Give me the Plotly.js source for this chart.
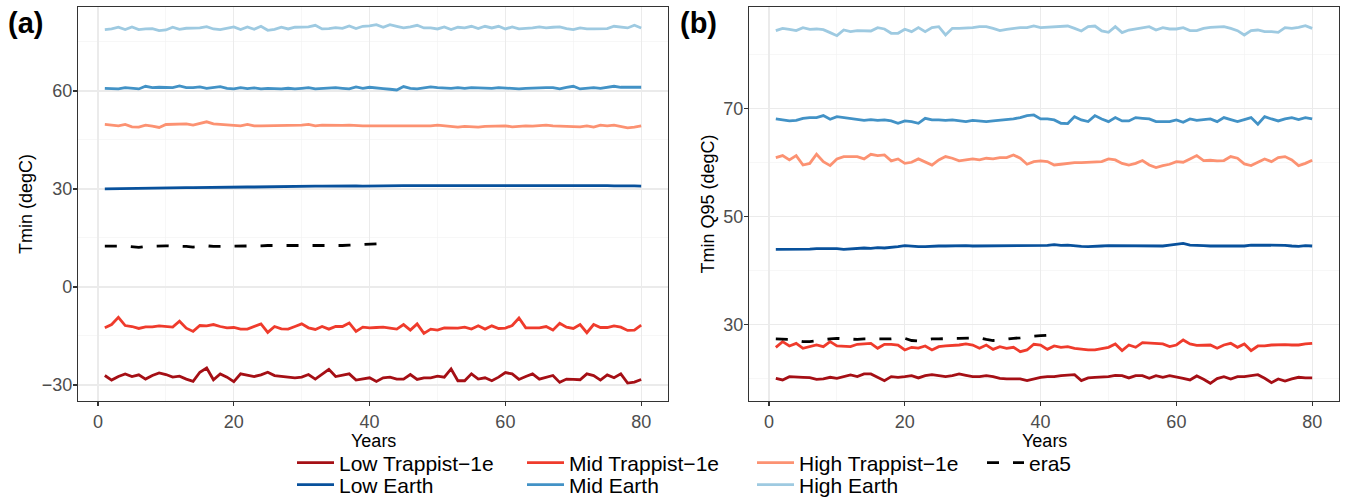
<!DOCTYPE html>
<html>
<head>
<meta charset="utf-8">
<script src="https://cdn.plot.ly/plotly-3.0.1.min.js"></script>
<style>html,body{margin:0;padding:0;background:#fff;}#chart{width:1348px;height:499px;}</style>
</head>
<body>
<div id="chart"></div>
<script>
// ---------- data ----------
const years = [1,2,3,4,5,6,7,8,9,10,11,12,13,14,15,16,17,18,19,20,21,22,23,24,25,26,27,28,29,30,31,32,33,34,35,36,37,38,39,40,41,42,43,44,45,46,47,48,49,50,51,52,53,54,55,56,57,58,59,60,61,62,63,64,65,66,67,68,69,70,71,72,73,74,75,76,77,78,79,80];
const era5Years = [1,2,3,4,5,6,7,8,9,10,11,12,13,14,15,16,17,18,19,20,21,22,23,24,25,26,27,28,29,30,31,32,33,34,35,36,37,38,39,40,41,42];

const seriesNames = ["Low Trappist\u22121e","Mid Trappist\u22121e","High Trappist\u22121e","era5","Low Earth","Mid Earth","High Earth"];
const xTitle = "Years";
const aYTitle = "Tmin (degC)";
const bYTitle = "Tmin Q95 (degC)";

// Panel (a): Tmin (degC)
const a_lowTrappist = [-27.1,-28.5,-27.4,-26.6,-27.4,-26.9,-28.2,-27.1,-26.3,-26.8,-27.6,-27.3,-28.2,-28.9,-26.1,-24.8,-28.4,-26.6,-27.6,-29.0,-26.6,-26.9,-27.4,-26.9,-26.1,-27.1,-27.4,-27.7,-27.8,-27.6,-26.8,-28.2,-26.6,-25.2,-27.4,-27.1,-26.6,-28.5,-28.2,-27.8,-28.9,-27.8,-27.6,-28.2,-28.2,-26.8,-28.3,-27.8,-27.8,-27.3,-27.6,-25.1,-28.7,-28.7,-26.6,-28.2,-27.8,-28.7,-27.6,-26.2,-26.6,-28.3,-27.4,-26.6,-28.2,-27.6,-27.1,-29.2,-28.2,-28.3,-28.4,-26.6,-27.1,-28.5,-26.9,-27.8,-26.6,-29.4,-29.1,-28.3];
const a_midTrappist = [-12.5,-11.5,-9.3,-11.8,-12.1,-12.7,-12.2,-12.2,-11.9,-12.1,-12.3,-10.5,-12.6,-13.6,-11.8,-11.9,-11.5,-12.1,-12.5,-12.4,-12.9,-12.9,-12.1,-11.3,-13.9,-12.1,-12.8,-12.9,-12.1,-11.3,-12.5,-13.0,-12.1,-12.9,-12.1,-12.1,-11.0,-13.6,-12.3,-12.5,-12.4,-12.3,-12.6,-12.9,-11.5,-13.2,-11.3,-14.2,-12.9,-13.2,-12.5,-12.6,-12.6,-12.3,-12.9,-11.9,-12.9,-11.9,-12.7,-12.6,-11.8,-9.5,-12.5,-12.5,-12.5,-12.1,-13.2,-11.1,-12.3,-12.7,-11.5,-14.0,-11.5,-12.4,-12.4,-11.9,-12.3,-13.3,-13.2,-11.7];
const a_highTrappist = [49.74,49.54,49.33,49.74,49.03,48.92,49.54,49.23,48.82,49.74,49.85,49.95,49.95,49.54,49.95,50.56,49.95,49.74,49.74,49.54,49.33,49.74,49.33,49.33,49.33,49.54,49.54,49.44,49.54,49.54,49.74,49.33,49.54,49.44,49.54,49.44,49.54,49.33,49.33,49.33,49.33,49.13,49.23,49.13,49.13,49.13,49.13,49.13,49.33,49.54,49.33,49.03,48.92,49.13,48.92,48.92,49.13,49.23,49.33,49.33,49.03,49.23,49.33,49.23,49.33,49.54,49.33,49.23,49.03,49.13,49.03,49.33,48.92,49.54,49.33,49.54,49.13,48.72,48.92,49.33];
const a_era5 = [12.5,12.6,12.5,12.5,12.2,12.1,12.4,12.5,12.5,12.6,12.5,12.5,12.4,12.2,12.5,12.6,12.4,12.4,12.5,12.6,12.5,12.4,12.6,12.6,12.7,12.7,12.6,12.7,12.6,12.6,12.6,12.6,12.6,12.5,12.6,12.7,12.8,12.9,13.1,13.2,13.2,13.3];
const a_lowEarth = [30.0,30.05,30.1,30.1,30.15,30.2,30.25,30.3,30.3,30.35,30.35,30.4,30.4,30.4,30.45,30.45,30.5,30.5,30.55,30.6,30.65,30.6,30.6,30.65,30.7,30.7,30.7,30.75,30.8,30.8,30.8,30.85,30.85,30.9,30.9,30.9,30.9,30.95,30.9,30.95,31.0,31.05,31.1,31.05,31.0,31.0,31.0,31.05,31.0,31.0,31.0,31.05,31.0,31.0,31.05,31.05,31.1,31.1,31.15,31.2,31.1,31.05,31.0,31.0,31.0,31.0,31.05,31.0,31.0,31.0,31.05,31.0,31.05,31.0,31.0,30.95,31.0,30.95,30.95,30.9];
const a_midEarth = [60.82,60.82,60.62,61.03,60.82,60.62,61.44,61.03,61.13,61.13,61.03,61.54,61.03,61.03,61.24,60.82,61.13,61.34,60.82,60.62,61.03,60.72,60.93,60.62,60.82,60.62,60.62,60.82,60.62,60.82,61.03,60.62,60.82,60.82,61.03,60.82,60.62,61.24,60.82,61.13,60.82,60.72,60.52,60.31,61.34,60.82,60.62,60.93,61.24,61.03,60.93,60.82,61.03,60.82,61.03,60.93,61.03,60.82,61.03,60.82,60.62,60.62,60.82,60.93,60.93,61.03,61.03,60.62,61.13,61.44,60.62,60.82,61.03,60.82,61.03,61.44,61.13,61.13,61.24,61.13];
const a_highEarth = [78.78,78.98,79.5,78.78,79.6,78.78,78.98,79.09,78.47,78.68,79.5,78.88,79.19,79.19,79.29,79.7,78.98,78.78,79.09,79.6,78.78,79.6,78.88,79.8,78.57,78.88,79.5,78.98,79.5,79.5,79.6,80.1,78.98,79.09,79.4,79.19,79.9,79.09,79.8,79.9,80.3,79.5,80.3,79.8,79.29,79.6,80.1,79.29,79.29,78.98,79.6,78.78,79.5,79.29,79.8,79.09,79.8,79.29,79.8,78.98,79.6,78.98,79.09,79.29,79.6,79.29,79.5,79.6,79.09,78.78,79.29,78.98,78.98,79.09,79.09,79.8,79.5,79.29,80.1,79.29];

// Panel (b): Tmin Q95 (degC)
const b_lowTrappist = [20.0,19.7,20.31,20.31,20.19,20.13,19.82,19.88,20.19,20.0,20.31,20.62,20.31,20.81,20.81,20.13,19.57,20.31,20.19,20.31,20.5,20.07,20.5,20.68,20.5,20.31,20.5,20.81,20.56,20.31,20.31,20.5,20.31,20.0,19.88,19.88,19.88,19.57,19.88,20.19,20.31,20.31,20.5,20.62,20.68,19.57,20.07,20.19,20.19,20.31,20.56,20.5,20.07,20.5,20.5,20.0,20.5,20.19,20.5,20.31,20.0,19.7,20.44,19.82,19.08,19.94,20.31,19.88,20.31,20.31,20.44,20.68,20.0,19.2,19.88,19.51,19.88,20.19,20.07,20.07];
const b_midTrappist = [25.74,26.79,25.99,26.48,25.56,25.87,26.17,25.87,26.79,25.99,25.99,25.87,26.3,26.36,26.48,25.56,26.3,26.3,26.17,25.25,25.74,25.6,25.99,25.25,25.87,25.99,26.05,26.17,26.36,26.17,25.56,26.17,25.37,25.87,25.56,25.74,24.94,25.25,26.3,26.17,25.37,25.99,25.74,25.87,25.56,25.37,25.25,25.25,25.56,25.74,26.36,25.13,26.17,25.74,26.6,26.48,26.48,26.36,25.87,26.17,27.1,26.36,26.11,26.17,26.17,25.56,26.17,26.48,25.74,26.36,25.13,25.99,25.99,26.17,26.24,26.24,26.17,26.17,26.36,26.48];
const b_highTrappist = [60.87,61.24,60.44,61.24,59.5,59.8,61.49,60.13,59.39,60.63,61.06,61.06,61.06,60.63,61.49,61.24,61.37,60.26,60.63,59.8,60.01,60.63,60.13,59.5,60.44,61.06,60.75,60.26,60.44,60.63,60.44,60.75,60.63,60.87,60.87,61.37,60.75,59.64,60.13,60.26,60.13,59.5,59.64,59.8,59.95,59.95,60.01,60.13,60.13,60.63,60.44,59.8,59.5,59.8,60.32,59.5,59.02,59.39,59.64,60.13,60.01,60.63,61.24,60.32,60.38,60.26,60.32,61.06,60.75,59.7,59.39,60.01,60.63,60.13,60.87,61.06,60.44,59.39,59.8,60.38];
const b_era5 = [27.3,27.3,27.2,27.0,26.8,26.8,27.0,27.2,27.3,27.4,27.3,27.3,27.2,27.3,27.3,27.2,27.3,27.3,27.4,27.4,27.0,26.9,27.1,27.3,27.3,27.4,27.4,27.4,27.4,27.4,27.5,27.2,27.0,27.1,27.3,27.4,27.5,27.7,27.8,27.9,28.0,28.05];
const b_lowEarth = [43.88,43.88,43.82,43.82,43.88,43.94,44.0,44.0,44.07,44.0,43.88,44.0,44.07,44.13,44.07,44.19,44.13,44.19,44.38,44.56,44.44,44.38,44.38,44.5,44.5,44.5,44.56,44.62,44.56,44.5,44.5,44.5,44.56,44.5,44.56,44.56,44.5,44.5,44.5,44.5,44.62,44.75,44.62,44.68,44.5,44.44,44.38,44.38,44.5,44.56,44.56,44.56,44.5,44.56,44.56,44.62,44.62,44.5,44.68,44.81,44.99,44.68,44.56,44.56,44.5,44.44,44.5,44.5,44.5,44.5,44.68,44.68,44.68,44.68,44.68,44.62,44.5,44.44,44.56,44.5];
const b_midEarth = [68.03,67.78,67.66,67.78,68.15,68.28,68.28,68.65,67.97,68.46,68.28,68.15,67.91,67.78,67.91,67.78,67.85,67.66,67.23,67.66,67.54,67.23,68.15,67.85,67.85,67.78,67.85,67.66,67.54,67.78,67.66,67.54,67.66,67.78,67.85,68.03,68.28,68.65,68.77,68.03,68.03,67.85,67.23,67.17,68.46,67.85,67.54,68.65,68.03,67.54,68.28,67.66,67.66,68.28,68.15,68.03,67.54,67.54,67.54,67.85,67.41,68.03,67.78,67.91,68.03,67.54,68.28,67.91,67.54,67.91,68.28,67.04,68.46,68.03,67.66,68.03,68.28,67.91,68.28,68.03];
const b_highEarth = [84.38,84.81,84.63,84.38,84.94,84.63,84.69,84.57,84.01,83.45,84.5,84.2,84.38,84.38,84.32,84.94,84.69,83.89,83.89,84.63,84.2,84.94,84.2,84.94,85.12,83.58,84.81,84.81,84.81,84.94,85.12,85.12,84.81,84.38,84.63,84.81,84.94,84.94,85.24,84.94,85.0,85.12,85.12,85.24,84.81,84.32,85.12,85.24,84.32,84.07,85.12,84.01,84.5,84.69,84.81,85.12,84.5,84.94,84.69,84.69,84.94,84.38,84.38,84.81,85.0,85.06,85.12,84.81,84.38,83.58,84.38,84.5,84.2,84.2,84.07,84.94,84.81,85.0,85.31,84.81];

const xTicks = [0,20,40,60,80];
const aYTicks = [-30,0,30,60];
const bYTicks = [30,50,70];

// ---------- styling ----------
const colors = ["#a50f15","#ef3b2c","#fc9272","#000000","#08519c","#4292c6","#9ecae1"];
const FONT = "Liberation Sans, Arial, Helvetica, sans-serif";
const LW = 2.8;

function mk(x, y, i, xa, ya, show) {
  const isEra = seriesNames[i] === "era5";
  return {
    x: x, y: y, type: "scatter", mode: "lines",
    name: seriesNames[i],
    xaxis: xa, yaxis: ya,
    line: {color: colors[i], width: LW, dash: isEra ? "12px,14px" : "solid"},
    showlegend: show,
    legend: i >= 4 ? "legend2" : "legend",
    hoverinfo: "skip"
  };
}

const aData = [a_lowTrappist, a_midTrappist, a_highTrappist, a_era5, a_lowEarth, a_midEarth, a_highEarth];
const bData = [b_lowTrappist, b_midTrappist, b_highTrappist, b_era5, b_lowEarth, b_midEarth, b_highEarth];
const drawOrder = [0,1,2,4,5,6,3];
const traces = [];
drawOrder.forEach(i => {
  const t = mk(i === 3 ? era5Years : years, aData[i], i, "x", "y", true);
  t.legendrank = i + 1;
  traces.push(t);
});
drawOrder.forEach(i => traces.push(mk(i === 3 ? era5Years : years, bData[i], i, "x2", "y2", false)));

const W = 1348, H = 499;
const M = {l: 78, r: 9, t: 7, b: 98};
const PW = W - M.l - M.r, PH = H - M.t - M.b;

function axX(domain, anchor) {
  return {
    domain: domain, anchor: anchor, range: [-2.95, 83.95],
    tickvals: xTicks, ticktext: xTicks.map(String),
    showline: true, mirror: true, linecolor: "#333333", linewidth: 1.1,
    ticks: "outside", ticklen: 4, tickcolor: "#333333", tickwidth: 1.1,
    showgrid: true, gridcolor: "#ebebeb", gridwidth: 1.1,
    minor: {tickvals: [10,30,50,70], showgrid: true, gridcolor: "#f2f2f2", gridwidth: 0.6, ticks: ""},
    zeroline: false,
    tickfont: {family: FONT, size: 18, color: "#4d4d4d"},
    automargin: false
  };
}
function axY(domain, anchor, range, tv, minorVals, title) {
  return {
    domain: domain, anchor: anchor, range: range,
    tickvals: tv, ticktext: tv.map(v => v < 0 ? "\u2212" + Math.abs(v) : String(v)),
    showline: true, mirror: true, linecolor: "#333333", linewidth: 1.1,
    ticks: "outside", ticklen: 4, tickcolor: "#333333", tickwidth: 1.1,
    ticklabelstandoff: -3,
    showgrid: true, gridcolor: "#ebebeb", gridwidth: 1.1,
    minor: {tickvals: minorVals, showgrid: true, gridcolor: "#f2f2f2", gridwidth: 0.6, ticks: ""},
    zeroline: false,
    tickfont: {family: FONT, size: 18, color: "#4d4d4d"},
    title: {text: title, font: {family: FONT, size: 18, color: "#000"}, standoff: 4},
    automargin: false
  };
}

const legendCommon = {
  orientation: "h", xanchor: "left", yanchor: "middle",
  xref: "paper", yref: "container",
  entrywidth: 178, entrywidthmode: "pixels",
  font: {family: FONT, size: 21, color: "#000"}, bgcolor: "rgba(0,0,0,0)",
  traceorder: "normal", itemwidth: 37, borderwidth: 0
};
const xa1 = [0, (668 - M.l)/PW], xa2 = [(749 - M.l)/PW, 1];
const titleY = -(441 - (H - M.b))/PH;
const layout = {
  width: W, height: H,
  margin: {l: M.l, r: M.r, t: M.t, b: M.b, autoexpand: false},
  paper_bgcolor: "#ffffff", plot_bgcolor: "#ffffff",
  font: {family: FONT, color: "#000"},
  xaxis: axX(xa1, "y"),
  yaxis: axY([0, 1], "x", [-34.9, 85.7], aYTicks, [-15,15,45,75], aYTitle),
  xaxis2: axX(xa2, "y2"),
  yaxis2: axY([0, 1], "x2", [15.8, 88.76], bYTicks, [20,40,60,80], bYTitle),
  legend: Object.assign({}, legendCommon, {x: (292 - M.l)/PW, y: 1 - 463/H}),
  legend2: Object.assign({}, legendCommon, {x: (292 - M.l)/PW, y: 1 - 485/H}),
  annotations: [
    {text: "<b>(a)</b>", x: (6 - M.l)/PW, y: 1 + (M.t - 5)/PH, xref: "paper", yref: "paper", xanchor: "left", yanchor: "top", showarrow: false, font: {family: FONT, size: 29, color: "#000"}},
    {text: "<b>(b)</b>", x: (678 - M.l)/PW, y: 1 + (M.t - 5)/PH, xref: "paper", yref: "paper", xanchor: "left", yanchor: "top", showarrow: false, font: {family: FONT, size: 29, color: "#000"}},
    {text: xTitle, x: (xa1[0] + xa1[1]) / 2, y: titleY, xref: "paper", yref: "paper", xanchor: "center", yanchor: "middle", showarrow: false, borderpad: 0, font: {family: FONT, size: 18, color: "#000"}},
    {text: xTitle, x: (xa2[0] + xa2[1]) / 2, y: titleY, xref: "paper", yref: "paper", xanchor: "center", yanchor: "middle", showarrow: false, borderpad: 0, font: {family: FONT, size: 18, color: "#000"}}
  ],
  showlegend: true
};

Plotly.newPlot("chart", traces, layout, {staticPlot: true, displayModeBar: false});
</script>
</body>
</html>
